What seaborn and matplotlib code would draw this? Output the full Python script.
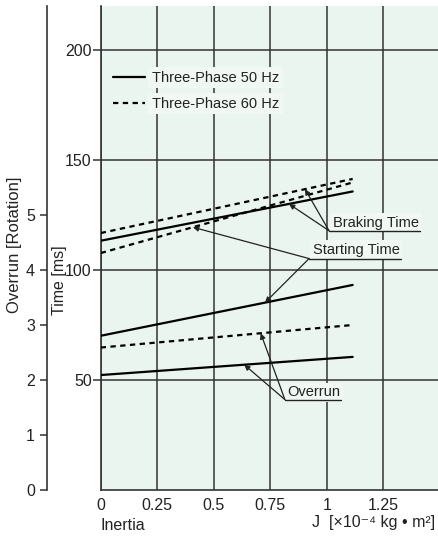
import numpy as np
import pandas as pd
import matplotlib
matplotlib.use("Agg")
import matplotlib.pyplot as plt
import seaborn as sns

# ---- data ----
inertia = [0.0, 1.115]
braking_50 = [113.3, 135.7]
braking_60 = [116.8, 141.4]
starting_50 = [70.1, 93.2]
starting_60 = [107.7, 139.8]
overrun_50 = [2.09, 2.42]
overrun_60 = [2.59, 3.00]

x_ticks = [0, 0.25, 0.5, 0.75, 1.0, 1.25]
x_tick_labels = ["0", "0.25", "0.5", "0.75", "1", "1.25"]
time_ticks = [50, 100, 150, 200]
overrun_ticks = [0, 1, 2, 3, 4, 5]
legend_labels = ["Three-Phase 50 Hz", "Three-Phase 60 Hz"]

sns.set_theme(style="ticks")
plt.rcParams["font.family"] = ["Liberation Sans", "DejaVu Sans"]
TXT = "#222222"
plt.rcParams["text.color"] = TXT
plt.rcParams["axes.labelcolor"] = TXT
plt.rcParams["xtick.color"] = TXT
plt.rcParams["ytick.color"] = TXT

BG = "#e9f5ee"
BOX = "#f1f8f4"
GRID = "#333333"
DASH = (0, (2.4, 2.0))
LW = 1.6

fig = plt.figure(figsize=(4.38, 5.42), dpi=100)
ax = fig.add_axes([100.7 / 438, 52 / 542, 337.3 / 438, 484 / 542])
ax.set_facecolor(BG)
ax.set_xlim(0, 1.4925)
ax.set_ylim(0, 220)

ax2 = ax.twinx()
ax2.set_ylim(0, 8.8)

# time series on main axis
sns.lineplot(x=inertia, y=braking_50, ax=ax, color="black", lw=LW, zorder=5)
sns.lineplot(x=inertia, y=braking_60, ax=ax, color="black", lw=LW, linestyle=DASH, zorder=5)
sns.lineplot(x=inertia, y=starting_50, ax=ax, color="black", lw=LW, zorder=5)
sns.lineplot(x=inertia, y=starting_60, ax=ax, color="black", lw=LW, linestyle=DASH, zorder=5)
# overrun series on overrun axis
sns.lineplot(x=inertia, y=overrun_50, ax=ax2, color="black", lw=LW, zorder=5)
sns.lineplot(x=inertia, y=overrun_60, ax=ax2, color="black", lw=LW, linestyle=DASH, zorder=5)

# main axis styling
ax.set_xticks(x_ticks)
ax.set_xticklabels(x_tick_labels)
ax.set_yticks(time_ticks)
ax.set_yticklabels([str(t) for t in time_ticks])
ax.grid(True, color=GRID, lw=1.1)
ax.set_axisbelow(True)
for s in ["top", "right"]:
    ax.spines[s].set_visible(False)
for s in ["left", "bottom"]:
    ax.spines[s].set_color(GRID)
    ax.spines[s].set_linewidth(1.2)
ax.tick_params(axis="x", length=0, pad=6, labelsize=11.5)
ax.tick_params(axis="y", length=5.5, width=1.1, pad=1, labelsize=11.5, color=GRID)
ax.set_xlabel("")
ax.set_ylabel("Time [ms]", fontsize=11.5)
ax.yaxis.set_label_coords(-0.101, 0.434)

# overrun axis styling
for s in ["top", "right", "bottom"]:
    ax2.spines[s].set_visible(False)
ax2.spines["left"].set_visible(True)
ax2.spines["left"].set_position(("outward", 54 * 72 / 100))
ax2.spines["left"].set_color(GRID)
ax2.spines["left"].set_linewidth(1.2)
ax2.yaxis.set_ticks_position("left")
ax2.yaxis.set_label_position("left")
ax2.set_yticks(overrun_ticks)
ax2.set_yticklabels([str(t) for t in overrun_ticks])
ax2.tick_params(axis="y", length=5, width=1.1, pad=3.5, labelsize=11.5, color=GRID)
ax2.set_ylabel("Overrun [Rotation]", fontsize=12)
ax2.yaxis.set_label_coords(-0.232, 0.506)
ax2.grid(False)

# legend
from matplotlib.lines import Line2D
handles = [Line2D([], [], color="black", lw=LW),
           Line2D([], [], color="black", lw=LW, linestyle=DASH)]
leg = ax.legend(handles, legend_labels, loc="upper left", bbox_to_anchor=(0.02, 0.878),
                frameon=False, fontsize=10.5, handlelength=2.2, handletextpad=0.45,
                labelspacing=0.83, borderaxespad=0)
for t in leg.get_texts():
    t.set_bbox(dict(facecolor=BOX, edgecolor="none", pad=2.5))

# callouts
fig.canvas.draw()
renderer = fig.canvas.get_renderer()

def callout(axis, label, origin, targets, dx, dy):
    ox, oy = origin
    txt = axis.text(ox + dx, oy + dy, label, ha="left", va="baseline", fontsize=10.5,
                    color=TXT, zorder=6,
                    bbox=dict(facecolor=BOX, edgecolor="none", pad=2))
    bb = txt.get_window_extent(renderer=renderer)
    x_right = axis.transData.inverted().transform((bb.x1 + 1, bb.y0))[0]
    axis.plot([ox, x_right], [oy, oy], color=TXT, lw=1.0, zorder=6)
    for tx, ty in targets:
        axis.annotate("", xy=(tx, ty), xytext=(ox, oy),
                      arrowprops=dict(arrowstyle="-|>", color=TXT, lw=0.9,
                                      mutation_scale=8, shrinkA=0, shrinkB=0),
                      zorder=6)

callout(ax, "Braking Time", (1.010, 117.9),
        [(0.904, np.interp(0.904, inertia, braking_60)),
         (0.833, np.interp(0.833, inertia, braking_50))], 0.018, 1.8)
callout(ax, "Starting Time", (0.922, 105.2),
        [(0.408, np.interp(0.408, inertia, starting_60)),
         (0.727, np.interp(0.727, inertia, starting_50))], 0.016, 2.2)
callout(ax2, "Overrun", (0.815, 1.644),
        [(0.708, np.interp(0.708, inertia, overrun_60)),
         (0.635, np.interp(0.635, inertia, overrun_50))], 0.010, 0.06)

fig.text(101 / 438, 1 - 525 / 542, "Inertia", ha="left", va="center", fontsize=11.5, color=TXT)
fig.text(435 / 438, 1 - 522 / 542, "J  [×10⁻⁴ kg • m²]", ha="right", va="center",
         fontsize=11.5, color=TXT)

fig.savefig("out.png", dpi=100)
